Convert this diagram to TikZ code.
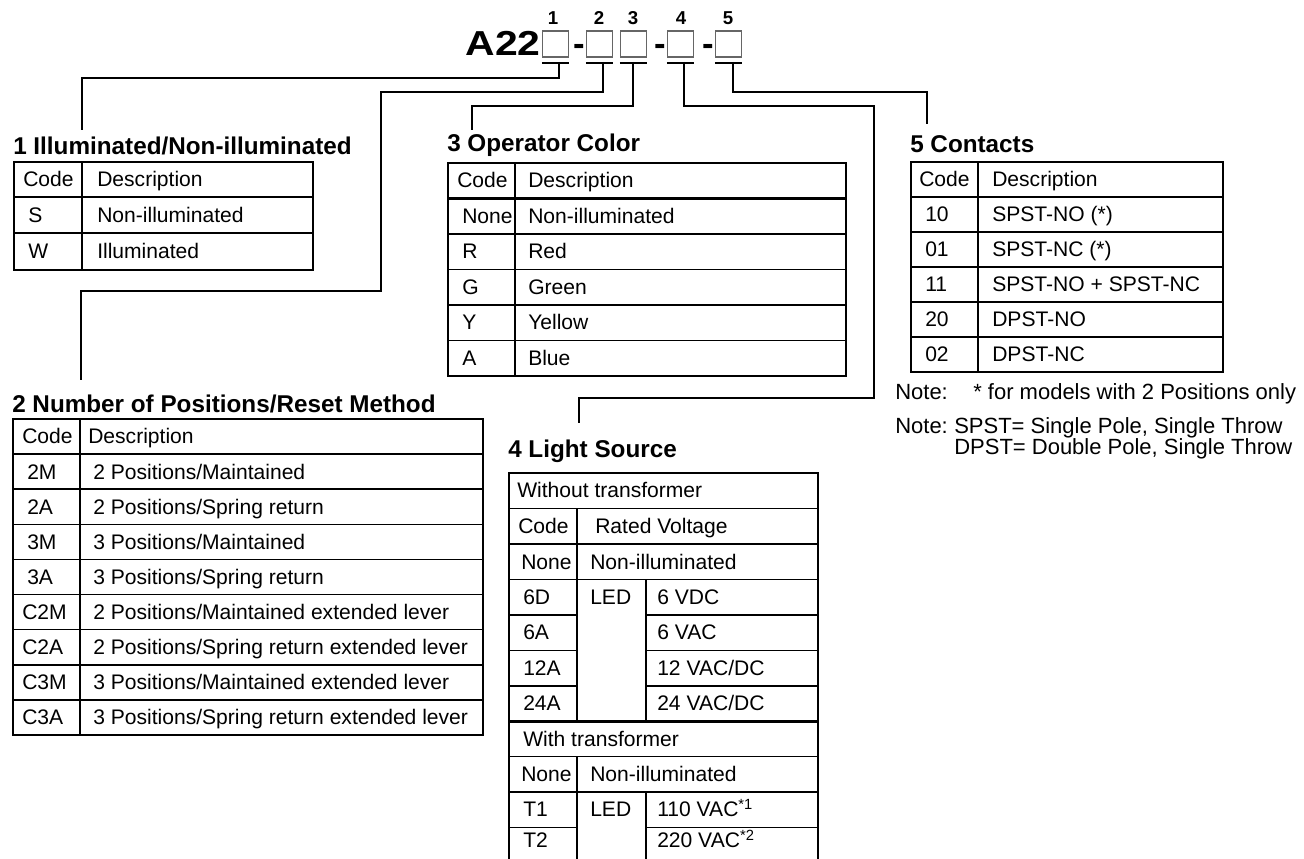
\documentclass[tikz,border=0pt]{standalone}
\usepackage{graphicx}
\usepackage{fontspec}
\setmainfont{Liberation Sans}
\newcommand\mytab{\fontsize{15.8}{18}\selectfont}
\newcommand\mynote{\fontsize{16.5}{19}\selectfont}
\newcommand\myttl{\fontsize{18.2}{21}\selectfont\bfseries}
\newcommand\mybig{\fontsize{26}{30}\selectfont\bfseries}
\newcommand\mynum{\fontsize{14}{16}\selectfont\bfseries}
\begin{document}
\begin{tikzpicture}[x=0.75pt,y=-0.75pt,
  tx/.style={font=\mytab,inner sep=0pt,anchor=base west},
  nt/.style={font=\mynote,inner sep=0pt,anchor=base west},
  ttl/.style={font=\myttl,inner sep=0pt,anchor=base west},
  num/.style={font=\mynum,inner sep=0pt,anchor=base},
  slot/.style={draw=black!60,line width=1.1pt,minimum size=19.5pt,inner sep=0pt},
  uline/.style={line width=1.2pt},
  conn/.style={line width=1.3pt},
  outer/.style={line width=2pt},
  inner/.style={line width=1.2pt}]
\useasboundingbox (0,0) rectangle (1304,859);

% ---- model code ----
\node[font=\mybig,inner sep=0pt,anchor=base east] (a22) at (541,56) {\scalebox{1.18}[1]{A22}};
\node[slot] (b1) at (555.5,44) {};
\node[slot] (b2) at (599.5,44) {};
\node[slot] (b3) at (633.5,44) {};
\node[slot] (b4) at (680.5,44) {};
\node[slot] (b5) at (728.5,44) {};
\node[font=\mybig,inner sep=0pt,anchor=base] (d1) at (579,56) {-};
\node[font=\mybig,inner sep=0pt,anchor=base] (d2) at (660,56) {-};
\node[font=\mybig,inner sep=0pt,anchor=base] (d3) at (708,56) {-};
\node[num] (n1) at (553,25) {1};
\node[num] (n2) at (599,25) {2};
\node[num] (n3) at (633,25) {3};
\node[num] (n4) at (681,25) {4};
\node[num] (n5) at (728,25) {5};
\foreach \b in {b1,b2,b3,b4,b5}
  \draw[uline] ([yshift=-3.75pt]\b.south west) -- ([yshift=-3.75pt]\b.south east);

% ---- connectors ----
\coordinate (u1) at (559,62);  \coordinate (k1) at (82,78);   \coordinate (e1) at (82,130);
\coordinate (u2) at (603,62);  \coordinate (k2a) at (381,92); \coordinate (k2b) at (81,291); \coordinate (e2) at (81,380);
\coordinate (u3) at (633,62);  \coordinate (k3) at (472,106); \coordinate (e3) at (472,130);
\coordinate (u4) at (684,62);  \coordinate (k4a) at (874,106); \coordinate (k4b) at (579,398); \coordinate (e4) at (579,423);
\coordinate (u5) at (733,62);  \coordinate (k5) at (927,92);  \coordinate (e5) at (927,124);
\draw[conn] (u1) |- (k1) -- (e1);
\draw[conn] (u2) |- (k2a) |- (k2b) -- (e2);
\draw[conn] (u3) |- (k3) -- (e3);
\draw[conn] (u4) |- (k4a) |- (k4b) -- (e4);
\draw[conn] (u5) |- (k5) -- (e5);

% ---- table 1 ----
\node[ttl] (t1) at (13,155) {1 Illuminated/Non-illuminated};
\draw[outer] (14,162) rectangle (313,270);
\draw[outer] (14,197) -- (313,197);
\draw[inner] (14,233) -- (313,233);
\draw[inner] (82,162) -- (82,270);
\node[tx] (t1h1) at (23,187) {Code};
\node[tx] (t1h2) at (97,187) {Description};
\node[tx] (t1a) at (28,223) {S};
\node[tx] (t1b) at (97,223) {Non-illuminated};
\node[tx] (t1c) at (28,259) {W};
\node[tx] (t1d) at (97,259) {Illuminated};

% ---- table 2 ----
\node[ttl] (t2) at (12,412) {2 Number of Positions/Reset Method};
\draw[outer] (13,419) rectangle (483,735);
\draw[outer] (13,454.1) -- (483,454.1);
\foreach \y in {489.2,524.3,559.4,594.5,629.6,664.7,699.8}
  \draw[inner] (13,\y) -- (483,\y);
\draw[inner] (80,419) -- (80,735);
\node[tx] (t2h1) at (22,444) {Code};
\node[tx] (t2h2) at (88,444) {Description};
\node[tx] (t2a1) at (27,479.1) {2M};
\node[tx] (t2a2) at (93,479.1) {2 Positions/Maintained};
\node[tx] (t2b1) at (27,514.2) {2A};
\node[tx] (t2b2) at (93,514.2) {2 Positions/Spring return};
\node[tx] (t2c1) at (27,549.3) {3M};
\node[tx] (t2c2) at (93,549.3) {3 Positions/Maintained};
\node[tx] (t2d1) at (27,584.4) {3A};
\node[tx] (t2d2) at (93,584.4) {3 Positions/Spring return};
\node[tx] (t2e1) at (22,619.5) {C2M};
\node[tx] (t2e2) at (93,619.5) {2 Positions/Maintained extended lever};
\node[tx] (t2f1) at (22,654.6) {C2A};
\node[tx] (t2f2) at (93,654.6) {2 Positions/Spring return extended lever};
\node[tx] (t2g1) at (22,689.7) {C3M};
\node[tx] (t2g2) at (93,689.7) {3 Positions/Maintained extended lever};
\node[tx] (t2h1x) at (22,724.8) {C3A};
\node[tx] (t2h2x) at (93,724.8) {3 Positions/Spring return extended lever};

% ---- table 3 ----
\node[ttl] (t3) at (447,152) {3 Operator Color};
\draw[outer] (448,163) rectangle (846,376);
\draw[outer] (448,198.5) -- (846,198.5);
\foreach \y in {234,269.5,305,340.5}
  \draw[inner] (448,\y) -- (846,\y);
\draw[inner] (515,163) -- (515,376);
\node[tx] (t3h1) at (457,188) {Code};
\node[tx] (t3h2) at (528,188) {Description};
\node[tx] (t3a1) at (462,223.5) {None};
\node[tx] (t3a2) at (528,223.5) {Non-illuminated};
\node[tx] (t3b1) at (462,259) {R};
\node[tx] (t3b2) at (528,259) {Red};
\node[tx] (t3c1) at (462,294.5) {G};
\node[tx] (t3c2) at (528,294.5) {Green};
\node[tx] (t3d1) at (462,330) {Y};
\node[tx] (t3d2) at (528,330) {Yellow};
\node[tx] (t3e1) at (462,365.5) {A};
\node[tx] (t3e2) at (528,365.5) {Blue};

% ---- table 4 ----
\node[ttl] (t4) at (508,457) {4 Light Source};
\draw[outer] (509,473) rectangle (818,863);
\foreach \y in {508.5,579.4,756.6,792}
  \draw[inner] (509,\y) -- (818,\y);
\foreach \y in {544,721.2}
  \draw[outer] (509,\y) -- (818,\y);
\foreach \y in {614.8,650.3,685.7,827.5}{
  \draw[inner] (509,\y) -- (577,\y);
  \draw[inner] (646,\y) -- (818,\y);}
\draw[inner] (577,508.5) -- (577,721.2);
\draw[inner] (646,579.4) -- (646,721.2);
\draw[inner] (577,756.6) -- (577,863);
\draw[inner] (646,792) -- (646,863);
\node[tx] (t4w) at (517,498) {Without transformer};
\node[tx] (t4h1) at (518,533.5) {Code};
\node[tx] (t4h2) at (595,533.5) {Rated Voltage};
\node[tx] (t4a1) at (521,569) {None};
\node[tx] (t4a2) at (590,569) {Non-illuminated};
\node[tx] (t4b1) at (523,604.4) {6D};
\node[tx] (t4b2) at (590,604.4) {LED};
\node[tx] (t4b3) at (657,604.4) {6 VDC};
\node[tx] (t4c1) at (523,639.8) {6A};
\node[tx] (t4c3) at (657,639.8) {6 VAC};
\node[tx] (t4d1) at (523,675.3) {12A};
\node[tx] (t4d3) at (657,675.3) {12 VAC/DC};
\node[tx] (t4e1) at (523,710.7) {24A};
\node[tx] (t4e3) at (657,710.7) {24 VAC/DC};
\node[tx] (t4t) at (523,746.2) {With transformer};
\node[tx] (t4f1) at (521,781.6) {None};
\node[tx] (t4f2) at (590,781.6) {Non-illuminated};
\node[tx] (t4g1) at (523,816) {T1};
\node[tx] (t4g2) at (590,816) {LED};
\node[tx] (t4g3) at (657,816) {110 VAC\textsuperscript{*1}};
\node[tx] (t4h1x) at (523,847) {T2};
\node[tx] (t4h3x) at (657,847) {220 VAC\textsuperscript{*2}};

% ---- table 5 ----
\node[ttl] (t5) at (910,153) {5 Contacts};
\draw[outer] (911,162) rectangle (1223,372);
\draw[outer] (911,197) -- (1223,197);
\foreach \y in {232,267,302,337}
  \draw[inner] (911,\y) -- (1223,\y);
\draw[inner] (978,162) -- (978,372);
\node[tx] (t5h1) at (919,187) {Code};
\node[tx] (t5h2) at (992,187) {Description};
\node[tx] (t5a1) at (925,222) {10};
\node[tx] (t5a2) at (992,222) {SPST-NO (*)};
\node[tx] (t5b1) at (925,257) {01};
\node[tx] (t5b2) at (992,257) {SPST-NC (*)};
\node[tx] (t5c1) at (925,292) {11};
\node[tx] (t5c2) at (992,292) {SPST-NO + SPST-NC};
\node[tx] (t5d1) at (925,327) {20};
\node[tx] (t5d2) at (992,327) {DPST-NO};
\node[tx] (t5e1) at (925,362) {02};
\node[tx] (t5e2) at (992,362) {DPST-NC};

% ---- notes ----
\node[nt] (no1) at (895,400) {Note:};
\node[nt] (no1b) at (973,400) {* for models with 2 Positions only};
\node[nt] (no2) at (895,433) {Note:};
\node[nt] (no2b) at (954,433) {SPST= Single Pole, Single Throw};
\node[nt] (no2c) at (954,455) {DPST= Double Pole, Single Throw};
\end{tikzpicture}
\end{document}
